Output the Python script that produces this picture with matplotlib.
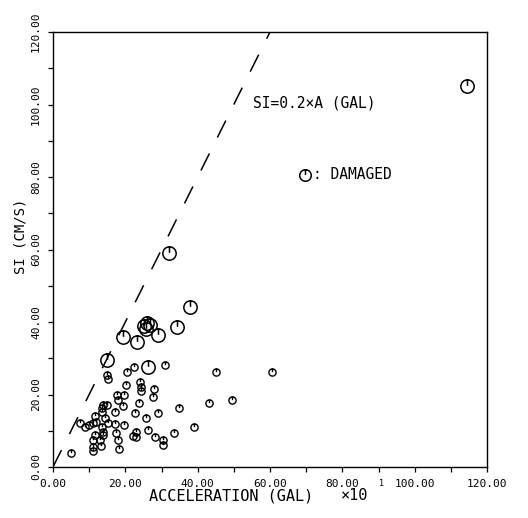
import numpy as np
import matplotlib
matplotlib.use("Agg")
import matplotlib.pyplot as plt
from matplotlib.path import Path

# ---- data ----
acc_undamaged = [5.0, 7.5, 8.8, 10.0, 11.1, 11.6, 11.9, 13.5, 13.5, 13.5, 13.8, 14.9, 14.4, 15.2,
                 17.1, 19.6, 17.1, 19.3, 18.0, 17.6, 19.7, 22.7, 23.8, 25.7, 29.0, 27.6, 27.9,
                 24.0, 24.3, 24.3, 20.2, 20.4, 22.4, 31.0, 14.9, 15.2, 13.8, 13.8, 11.6, 17.4,
                 22.0, 23.0, 23.0, 26.3, 28.2, 30.4, 30.4, 18.0, 18.2, 11.1, 13.0, 11.1, 13.3,
                 11.1, 33.5, 39.0, 34.8, 43.2, 49.5, 45.0, 60.5]
si_undamaged = [3.9, 12.1, 11.0, 11.6, 12.1, 14.1, 12.4, 11.0, 16.3, 15.2, 17.1, 17.1, 13.5, 12.1,
                11.9, 11.6, 15.2, 16.8, 18.5, 19.9, 19.9, 14.9, 17.6, 13.5, 14.9, 19.3, 21.5,
                23.4, 22.1, 21.0, 22.6, 26.2, 27.6, 28.1, 25.4, 24.3, 9.7, 8.8, 8.8, 9.4,
                8.6, 9.7, 8.4, 10.2, 8.3, 7.4, 6.1, 7.4, 5.0, 7.4, 7.4, 5.5, 5.8,
                4.4, 9.4, 11.0, 16.3, 17.7, 18.5, 26.3, 26.2]

acc_damaged = [114.5, 32.0, 38.0, 34.3, 25.2, 26.0, 26.8, 25.8, 19.4, 23.2, 29.0, 15.0, 26.3]
si_damaged = [105.0, 59.0, 44.1, 38.6, 38.8, 39.8, 39.2, 38.0, 36.0, 34.5, 36.4, 29.5, 27.6]

criterion_acc = [0, 60]
criterion_si = [0, 120]

xticks = [0, 20, 40, 60, 80, 100, 120]
yticks = [0, 20, 40, 60, 80, 100, 120]
xticklabels = ["0.00", "20.00", "40.00", "60.00", "80.00", "100.00", "120.00"]
yticklabels = ["0.00", "20.00", "40.00", "60.00", "80.00", "100.00", "120.00"]

# ---- marker: circle with a tick from top to centre ----
circ = Path.unit_circle()
verts = np.concatenate([circ.vertices, [[0, 1], [0, 0.1]]])
codes = np.concatenate([circ.codes, [Path.MOVETO, Path.LINETO]])
mk = Path(verts, codes)

MONO = "DejaVu Sans Mono"
plt.rcParams['font.family'] = MONO

W, H = 528, 518
fig = plt.figure(figsize=(W / 100, H / 100), dpi=100)
ax = fig.add_axes([53 / W, 51 / H, 434 / W, 435 / H])

lw = 1.1
ax.plot(criterion_acc, criterion_si, color="black", lw=lw, ls=(0, (12.4, 11.7)))

ax.plot(acc_undamaged, si_undamaged, ls="none", marker=mk, markersize=5.2,
        markerfacecolor="none", markeredgecolor="black", markeredgewidth=1.0)
ax.plot(acc_damaged, si_damaged, ls="none", marker=mk, markersize=9.6,
        markerfacecolor="none", markeredgecolor="black", markeredgewidth=1.1)

# legend-like annotation
ax.plot([69.7], [80.6], ls="none", marker=mk, markersize=8.3,
        markerfacecolor="none", markeredgecolor="black", markeredgewidth=1.1)
ax.text(72.0, 80.6, ": DAMAGED", fontsize=10.5, va="center", ha="left")
ax.text(55.3, 100.4, "SI=0.2×A (GAL)", fontsize=10.5, va="center", ha="left")

ax.set_xlim(0, 120)
ax.set_ylim(0, 120)
ax.set_xticks(xticks)
ax.set_yticks(yticks)
ax.set_xticks(np.arange(0, 121, 10), minor=True)
ax.set_yticks(np.arange(0, 121, 10), minor=True)
ax.set_xticklabels(xticklabels, fontsize=8)
ax.set_yticklabels(yticklabels, fontsize=8, rotation=90, va="center")
ax.tick_params(which="both", direction="out", length=3.6, width=0.9,
               top=False, right=False, pad=5.0)
for s in ax.spines.values():
    s.set_linewidth(1.0)

fig.text(231 / W, 1 - 496 / H, "ACCELERATION (GAL)", fontsize=11, ha="center", va="center")
fig.text(355 / W, 1 - 496 / H, "×10", fontsize=11, ha="center", va="center")
fig.text(382 / W, 1 - 483 / H, "1", fontsize=6, ha="center", va="center")
fig.text(21 / W, 1 - 236 / H, "SI (CM/S)", fontsize=10, rotation=90, ha="center", va="center")

fig.savefig("out.png", dpi=100)
